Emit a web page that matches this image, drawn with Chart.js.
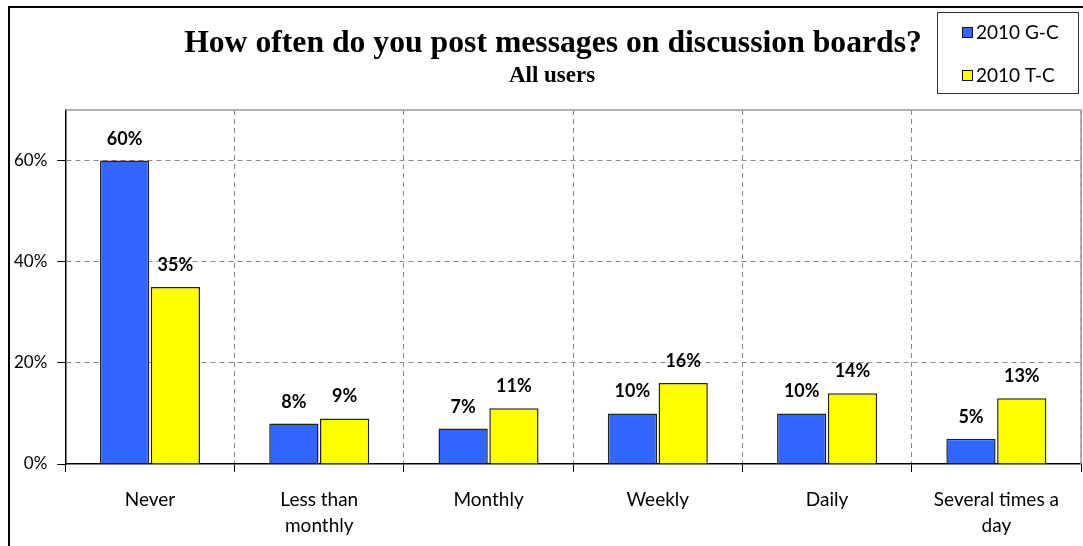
<!DOCTYPE html>
<html>
<head>
<meta charset="utf-8">
<script src="https://cdn.jsdelivr.net/npm/chart.js@4.4.1/dist/chart.umd.min.js"></script>
<style>
    html, body { margin: 0; padding: 0; background: #fff; }
    #caixa { position: relative; width: 1083px; height: 546px; }
    #caixa canvas { position: absolute; left: 0; top: 0; }
    #moldura { position: absolute; left: 8px; top: 6px; width: 1090px; height: 560px;
        border-left: 2px solid #000; border-top: 2px solid #000; box-sizing: border-box; pointer-events: none; }
</style>
</head>
<body>
<div id="caixa">
    <canvas id="grafico" width="1083" height="546"></canvas>
    <div id="moldura"></div>
</div>
<script>

const categorias = ['Never', ['Less than', 'monthly'], 'Monthly', 'Weekly', 'Daily', ['Several times a', 'day']];
const serieGC = [60, 8, 7, 10, 10, 5];
const serieTC = [35, 9, 11, 16, 14, 13];
const nomesSeries = ['2010 G-C', '2010 T-C'];
const coresSeries = ['#3366FF', '#FFFF00'];
const rotulosY = [0, 20, 40, 60];

const titulo = 'How often do you post messages on discussion boards?';
const subtitulo = 'All users';

const fonteTexto = 'Lato, "Open Sans", sans-serif';
const fonteTitulo = '"Liberation Serif", "DejaVu Serif", serif';

// titulo, legenda, rotulos das barras e borda cinza do plot
const extras = {
    id: 'extras',
    afterDraw(chart){
        const c = chart.ctx;
        const area = chart.chartArea;

        // borda cinza em cima e a direita
        c.save();
        c.strokeStyle = '#999';
        c.lineWidth = 1.5;
        c.beginPath();
        c.moveTo(area.left, area.top);
        c.lineTo(area.right, area.top);
        c.lineTo(area.right, area.bottom);
        c.stroke();
        c.restore();

        // rotulos das barras
        c.save();
        c.fillStyle = '#000';
        c.font = 'bold 18px ' + fonteTexto;
        c.textAlign = 'center';
        c.textBaseline = 'alphabetic';
        chart.data.datasets.forEach((ds, i) => {
            chart.getDatasetMeta(i).data.forEach((barra, j) => {
                c.fillText(ds.data[j] + '%', barra.x, barra.y - 16);
            });
        });
        c.restore();

        // titulo
        c.save();
        c.fillStyle = '#000';
        c.textAlign = 'center';
        c.font = 'bold 31.7px ' + fonteTitulo;
        c.fillText(titulo, 553, 52);
        c.font = 'bold 23px ' + fonteTitulo;
        c.fillText(subtitulo, 552, 82);
        c.restore();

        // legenda
        c.save();
        c.fillStyle = '#fff';
        c.fillRect(937, 12, 141, 81);
        c.strokeStyle = '#333';
        c.lineWidth = 1;
        c.strokeRect(937.5, 12.5, 141, 81);
        c.font = '19px ' + fonteTexto;
        c.textBaseline = 'middle';
        c.textAlign = 'left';
        nomesSeries.forEach((nome, i) => {
            const y = 32 + i * 43;
            c.fillStyle = coresSeries[i];
            c.fillRect(962, y - 5, 10, 10);
            c.strokeStyle = '#111';
            c.strokeRect(962.5, y - 4.5, 10, 10);
            c.fillStyle = '#000';
            c.fillText(nome, 976, y + 1);
        });
        c.restore();
    }
};

const ctx = document.getElementById('grafico');

new Chart(ctx, {
    type: 'bar',

    data: {
        labels: categorias,

        datasets: [{
            label: nomesSeries[0],
            data: serieGC,
            backgroundColor: coresSeries[0],
            borderColor: '#222',
            borderWidth: 1.5,
            barPercentage: 0.97,
            categoryPercentage: 0.6
        }, {
            label: nomesSeries[1],
            data: serieTC,
            backgroundColor: coresSeries[1],
            borderColor: '#222',
            borderWidth: 1.5,
            barPercentage: 0.97,
            categoryPercentage: 0.6
        }]
    },

    options: {
        responsive: false,
        animation: false,

        layout: {
            padding: { top: 110, left: 4, right: 2, bottom: 8 }
        },

        plugins: {
            legend: { display: false },
            tooltip: { enabled: false }
        },

        scales: {
            x: {
                afterFit(eixo){
                    eixo.height = 74;
                },
                grid: {
                    offset: true,
                    color: c => (c.index === 0 ? 'rgba(0,0,0,0)' : '#888'),
                    tickColor: '#000',
                    tickLength: 8,
                    tickBorderDash: [],
                    drawOnChartArea: true
                },
                border: { color: '#000', width: 1.5, dash: [5, 4] },
                ticks: {
                    color: '#000',
                    font: { family: fonteTexto, size: 19, lineHeight: 1.38 },
                    padding: 15,
                    maxRotation: 0,
                    autoSkip: false
                }
            },
            y: {
                min: 0,
                max: 70,
                afterBuildTicks(eixo){
                    eixo.ticks = rotulosY.map(v => ({ value: v }));
                },
                grid: {
                    color: c => (c.tick && c.tick.value === 0 ? 'rgba(0,0,0,0)' : '#888'),
                    tickColor: '#000',
                    tickLength: 8,
                    tickBorderDash: []
                },
                border: { color: '#000', width: 1.5, dash: [5, 4] },
                ticks: {
                    color: '#000',
                    font: { family: fonteTexto, size: 17 },
                    padding: 10,
                    callback: v => v + '%'
                }
            }
        }
    },

    plugins: [extras]
});

</script>
</body>
</html>
